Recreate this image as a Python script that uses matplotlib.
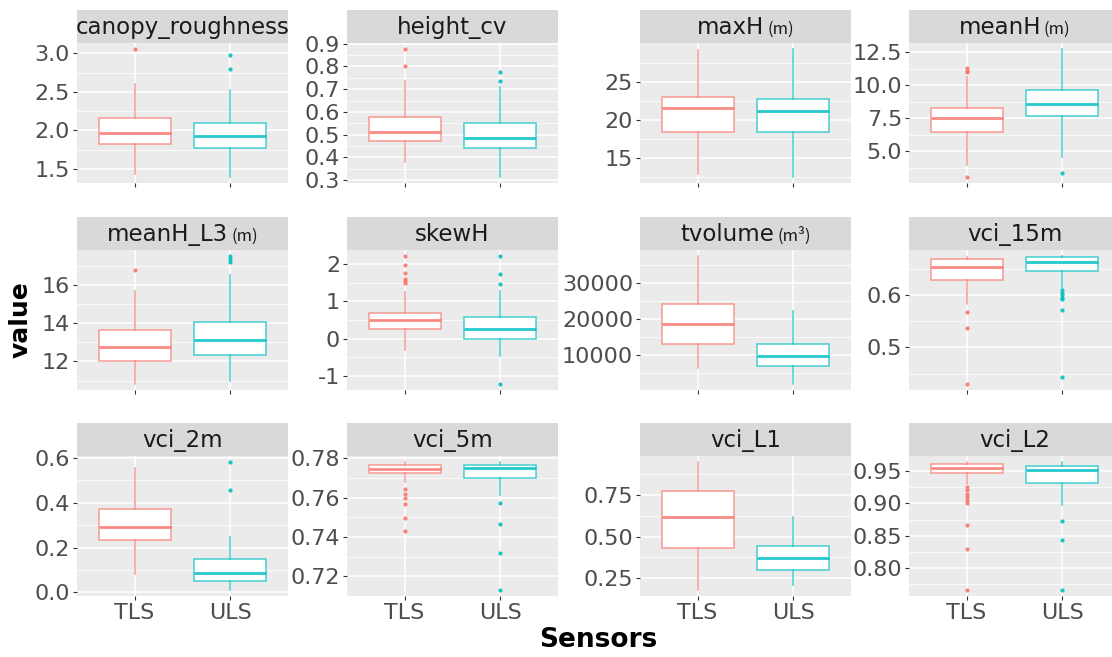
import numpy as np
import matplotlib
matplotlib.use('Agg')
import matplotlib.pyplot as plt
from matplotlib.offsetbox import TextArea, HPacker, AnchoredOffsetbox
from matplotlib.colors import to_rgba

plt.rcParams['font.family'] = ['DejaVu Sans']

# facet names and units
features = ['canopy_roughness', 'height_cv', 'maxH', 'meanH',
            'meanH_L3', 'skewH', 'tvolume', 'vci_15m',
            'vci_2m', 'vci_5m', 'vci_L1', 'vci_L2']
units = ['', '', '(m)', '(m)', '(m)', '', '(m³)', '', '', '', '', '']
sensors = ['TLS', 'ULS']

# box stats: whislo, q1, median, q3, whishi
tls_stats = [
    [1.43, 1.82, 1.96, 2.16, 2.60],
    [0.38, 0.47, 0.51, 0.576, 0.736],
    [12.9, 18.4, 21.5, 23.0, 29.2],
    [4.0, 6.5, 7.5, 8.25, 10.6],
    [10.84, 12.04, 12.78, 13.63, 15.7],
    [-0.3, 0.25, 0.5, 0.68, 1.25],
    [6400, 13000, 18600, 24300, 37500],
    [0.584, 0.629, 0.653, 0.669, 0.673],
    [0.08, 0.233, 0.29, 0.37, 0.557],
    [0.768, 0.7725, 0.7745, 0.7765, 0.778],
    [0.18, 0.434, 0.621, 0.774, 0.948],
    [0.929, 0.946, 0.955, 0.960, 0.963],
]
uls_stats = [
    [1.40, 1.77, 1.93, 2.09, 2.52],
    [0.315, 0.44, 0.485, 0.55, 0.71],
    [12.5, 18.4, 21.2, 22.8, 29.3],
    [4.6, 7.7, 8.6, 9.6, 12.7],
    [10.98, 12.35, 13.14, 14.05, 16.5],
    [-0.45, 0.0, 0.25, 0.57, 1.27],
    [2100, 6900, 9900, 13000, 22400],
    [0.613, 0.647, 0.663, 0.673, 0.674],
    [0.012, 0.05, 0.087, 0.147, 0.248],
    [0.7612, 0.770, 0.775, 0.7765, 0.778],
    [0.209, 0.301, 0.372, 0.444, 0.617],
    [0.898, 0.931, 0.952, 0.958, 0.963],
]
tls_out = [
    [3.05],
    [0.875, 0.80],
    [],
    [11.3, 11.1, 11.0, 3.1],
    [16.8],
    [2.2, 1.98, 1.76, 1.6, 1.55, 1.5],
    [],
    [0.568, 0.537, 0.431],
    [],
    [0.7643, 0.762, 0.760, 0.7567, 0.7495, 0.7433],
    [],
    [0.925, 0.92, 0.915, 0.91, 0.905, 0.90, 0.867, 0.830, 0.767],
]
uls_out = [
    [2.98, 2.8],
    [0.775, 0.735],
    [],
    [3.4],
    [17.5, 17.35, 17.2],
    [2.2, 1.73, 1.45, -1.2],
    [],
    [0.61, 0.605, 0.60, 0.595, 0.592, 0.572, 0.444],
    [0.58, 0.457],
    [0.7575, 0.7465, 0.732, 0.7133],
    [],
    [0.873, 0.843, 0.767],
]

yticks = [
    [1.5, 2.0, 2.5, 3.0],
    [0.3, 0.4, 0.5, 0.6, 0.7, 0.8, 0.9],
    [15, 20, 25],
    [5.0, 7.5, 10.0, 12.5],
    [12, 14, 16],
    [-1, 0, 1, 2],
    [10000, 20000, 30000],
    [0.5, 0.6],
    [0.0, 0.2, 0.4, 0.6],
    [0.72, 0.74, 0.76, 0.78],
    [0.25, 0.50, 0.75],
    [0.80, 0.85, 0.90, 0.95],
]
ytick_labels = [
    ['1.5', '2.0', '2.5', '3.0'],
    ['0.3', '0.4', '0.5', '0.6', '0.7', '0.8', '0.9'],
    ['15', '20', '25'],
    ['5.0', '7.5', '10.0', '12.5'],
    ['12', '14', '16'],
    ['-1', '0', '1', '2'],
    ['10000', '20000', '30000'],
    ['0.5', '0.6'],
    ['0.0', '0.2', '0.4', '0.6'],
    ['0.72', '0.74', '0.76', '0.78'],
    ['0.25', '0.50', '0.75'],
    ['0.80', '0.85', '0.90', '0.95'],
]

colors = ['#F8766D', '#00BFC4']

W, H = 1112, 657
fig = plt.figure(figsize=(W / 100, H / 100), dpi=100)

col_left = [77, 347, 640, 909]
row_top = [10, 217, 423]
pw, ph, sh = 211, 140, 33


def frac(x, y, w, h):
    return [x / W, 1 - (y + h) / H, w / W, h / H]


for i, name in enumerate(features):
    r, c = divmod(i, 4)
    x0 = col_left[c]
    y0 = row_top[r]

    # strip
    sax = fig.add_axes(frac(x0, y0, pw, sh))
    sax.set_facecolor('#D9D9D9')
    sax.set_xticks([])
    sax.set_yticks([])
    for s in sax.spines.values():
        s.set_visible(False)
    parts = [TextArea(name, textprops=dict(size=16.5, color='#1A1A1A'))]
    if units[i]:
        parts.append(TextArea(units[i], textprops=dict(size=12, color='#1A1A1A',
                                                        family=['Noto Sans CJK SC', 'DejaVu Sans'])))
    pack = HPacker(children=parts, align='baseline', pad=0, sep=2)
    sax.add_artist(AnchoredOffsetbox(loc='center', child=pack, frameon=False, pad=0,
                                     bbox_to_anchor=(0.5, 0.47), bbox_transform=sax.transAxes))

    # panel
    ax = fig.add_axes(frac(x0, y0 + sh, pw, ph))
    ax.set_facecolor('#EBEBEB')
    for s in ax.spines.values():
        s.set_visible(False)

    stats = []
    for st, out in ((tls_stats[i], tls_out[i]), (uls_stats[i], uls_out[i])):
        stats.append(dict(whislo=st[0], q1=st[1], med=st[2], q3=st[3], whishi=st[4], fliers=out))

    step = yticks[i][1] - yticks[i][0]
    minors = np.arange(yticks[i][0] - step / 2, yticks[i][-1] + step, step)
    ax.set_yticks(minors, minor=True)
    ax.set_yticks(yticks[i])
    ax.set_yticklabels(ytick_labels[i])
    ax.grid(True, which='major', color='white', linewidth=1.1)
    ax.grid(True, which='minor', axis='y', color='white', linewidth=0.55)
    ax.set_axisbelow(True)
    ax.set_xticks([1, 2])
    if r == 2:
        ax.set_xticklabels(sensors)
    else:
        ax.set_xticklabels([])
    ax.tick_params(which='major', length=3, width=0.8, color='#333333',
                   labelcolor='#4D4D4D', labelsize=16, pad=2)
    ax.tick_params(which='minor', length=0)

    for k in range(2):
        line = to_rgba(colors[k], 0.72)
        ax.bxp([stats[k]], positions=[k + 1], widths=0.75, patch_artist=True,
               showcaps=False,
               boxprops=dict(facecolor='white', edgecolor=line, linewidth=1.1),
               whiskerprops=dict(color=line, linewidth=1.1),
               medianprops=dict(color=to_rgba(colors[k], 0.85), linewidth=2.0),
               flierprops=dict(marker='o', markersize=3, markerfacecolor=colors[k],
                               markeredgecolor='none', alpha=0.9),
               manage_ticks=False)

    # limits last, ggplot style 5% expansion
    allv = tls_stats[i] + uls_stats[i] + tls_out[i] + uls_out[i]
    lo, hi = min(allv), max(allv)
    pad = (hi - lo) * 0.05
    ax.set_ylim(lo - pad, hi + pad)
    ax.set_xlim(0.4, 2.6)

fig.text(21 / W, 1 - 320 / H, 'value', rotation=90, ha='center', va='center',
         fontsize=18, fontweight='bold', color='black')
fig.text(598 / W, 1 - 640 / H, 'Sensors', ha='center', va='center',
         fontsize=19, fontweight='bold', color='black')

fig.savefig('out.png', dpi=100, facecolor='white')
